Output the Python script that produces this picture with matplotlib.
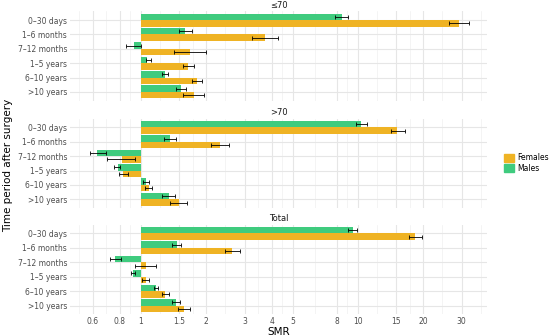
import numpy as np
import matplotlib
matplotlib.use('Agg')
import matplotlib.pyplot as plt
from matplotlib.patches import Patch

#%% data
periods = ['0–30 days', '1–6 months', '7–12 months', '1–5 years', '6–10 years', '>10 years']
panels = ['≤70', '>70', 'Total']

# ≤70
le70_male = [8.4, 1.60, 0.93, 1.07, 1.29, 1.53]
le70_male_lo = [7.8, 1.49, 0.85, 1.05, 1.25, 1.45]
le70_male_hi = [9.0, 1.71, 1.00, 1.11, 1.33, 1.62]
le70_female = [29.3, 3.73, 1.68, 1.65, 1.81, 1.75]
le70_female_lo = [26.4, 3.26, 1.42, 1.56, 1.72, 1.57]
le70_female_hi = [32.6, 4.26, 1.99, 1.75, 1.92, 1.95]

# >70
gt70_male = [10.3, 1.36, 0.63, 0.78, 1.05, 1.34]
gt70_male_lo = [9.76, 1.28, 0.58, 0.75, 1.02, 1.25]
gt70_male_hi = [10.96, 1.45, 0.69, 0.80, 1.085, 1.43]
gt70_female = [15.2, 2.32, 0.82, 0.83, 1.085, 1.50]
gt70_female_lo = [14.2, 2.11, 0.70, 0.79, 1.04, 1.36]
gt70_female_hi = [16.5, 2.55, 0.94, 0.87, 1.13, 1.63]

# total
tot_male = [9.45, 1.46, 0.76, 0.92, 1.17, 1.45]
tot_male_lo = [9.0, 1.39, 0.72, 0.90, 1.15, 1.39]
tot_male_hi = [9.9, 1.53, 0.81, 0.94, 1.20, 1.51]
tot_female = [18.4, 2.63, 1.05, 1.05, 1.285, 1.58]
tot_female_lo = [17.2, 2.44, 0.94, 1.01, 1.245, 1.485]
tot_female_hi = [19.7, 2.85, 1.17, 1.085, 1.34, 1.69]

breaks = [0.6, 0.8, 1, 1.5, 2, 3, 4, 5, 8, 10, 15, 20, 30]
break_labels = ['0.6', '0.8', '1', '1.5', '2', '3', '4', '5', '8', '10', '15', '20', '30']

female_col = '#EFB324'
male_col = '#3FCB7E'

#%% figure
W, H = 550, 336
fig = plt.figure(figsize=(W / 100, H / 100), dpi=100)
plt.rcParams['font.family'] = ['DejaVu Sans']

# panel pixel boxes (left, top, right, bottom)
boxes = [(70, 11.4, 487, 100.6), (70, 118.7, 487, 208), (70, 224.7, 487, 314.3)]

data = [
    (le70_male, le70_male_lo, le70_male_hi, le70_female, le70_female_lo, le70_female_hi),
    (gt70_male, gt70_male_lo, gt70_male_hi, gt70_female, gt70_female_lo, gt70_female_hi),
    (tot_male, tot_male_lo, tot_male_hi, tot_female, tot_female_lo, tot_female_hi),
]

# minor grid positions: geometric midpoints, extended one step each side
lb = np.log10(breaks)
minor = list((lb[:-1] + lb[1:]) / 2)
minor = [lb[0] - (lb[1] - lb[0]) / 2] + minor + [lb[-1] + (lb[-1] - lb[-2]) / 2]
minor = 10 ** np.array(minor)

y = np.arange(len(periods))
for k, (box, d, title) in enumerate(zip(boxes, data, panels)):
    l, t, r, b = box
    ax = fig.add_axes([l / W, 1 - b / H, (r - l) / W, (b - t) / H])
    m, mlo, mhi, f, flo, fhi = [np.array(v) for v in d]
    ax.set_xscale('log')
    ax.set_xlim(0.471, 39.3)
    ax.set_ylim(5.6, -0.6)

    for xm in minor:
        ax.axvline(xm, color='#f0f0f0', lw=0.5, zorder=0)
    for xb in breaks:
        ax.axvline(xb, color='#e6e6e6', lw=0.8, zorder=0)
    for yy in y:
        ax.axhline(yy, color='#e6e6e6', lw=0.8, zorder=0)

    ax.barh(y - 0.225, m - 1, left=1, height=0.45, color=male_col, zorder=2)
    ax.barh(y + 0.225, f - 1, left=1, height=0.45, color=female_col, zorder=2)
    ax.errorbar(m, y - 0.225, xerr=[m - mlo, mhi - m], fmt='none', ecolor='black',
                elinewidth=0.6, capsize=1.2, capthick=0.6, zorder=3)
    ax.errorbar(f, y + 0.225, xerr=[f - flo, fhi - f], fmt='none', ecolor='black',
                elinewidth=0.6, capsize=1.2, capthick=0.6, zorder=3)

    for s in ax.spines.values():
        s.set_visible(False)
    ax.minorticks_off()
    ax.set_xticks(breaks)
    ax.set_yticks(y)
    ax.set_yticklabels(periods, fontsize=5.5, color='#4d4d4d')
    ax.tick_params(length=0, pad=2)
    if k == 2:
        ax.set_xticklabels(break_labels, fontsize=5.5, color='#4d4d4d')
        ax.set_xlabel('SMR', fontsize=7.5, labelpad=0.5)
    else:
        ax.set_xticklabels([])
    ax.set_title(title, fontsize=6, color='#1a1a1a', pad=2.5)

fig.text(8 / W, 1 - 165 / H, 'Time period after surgery', rotation=90,
         ha='center', va='center', fontsize=7.5)

handles = [Patch(color=female_col), Patch(color=male_col)]
fig.legend(handles, ['Females', 'Males'], loc='center left',
           bbox_to_anchor=(497 / W, 1 - 163 / H), frameon=False, fontsize=5.5,
           handlelength=1.3, handleheight=1.3, handletextpad=0.5, labelspacing=0.15)

fig.savefig('out.png', dpi=100)
